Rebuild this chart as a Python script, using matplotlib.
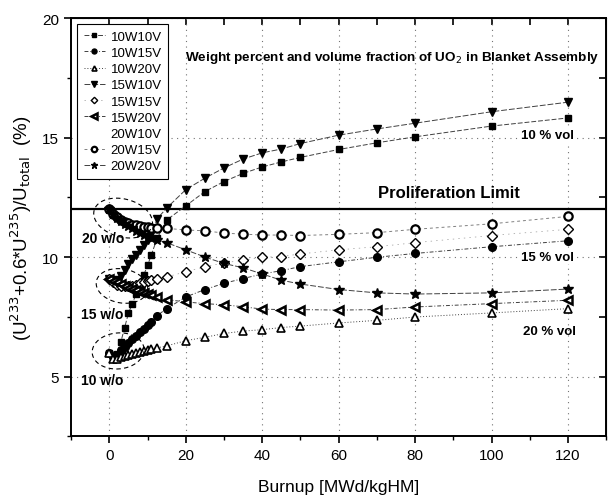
import numpy as np
import matplotlib
matplotlib.use('Agg')
import matplotlib.pyplot as plt

plt.rcParams['font.family'] = ['Liberation Sans', 'DejaVu Sans']

# burnup points [MWd/kgHM]
burnup = [0, 1, 2, 3, 4, 5, 6, 7, 8, 9, 10, 11, 12.5, 15, 20, 25, 30, 35, 40, 45, 50, 60, 70, 80, 100, 120]

# (U233 + 0.6*U235)/Utotal [%] for each case
w10v10 = [6.0, 5.8, 5.95, 6.44, 7.05, 7.65, 8.05, 8.45, 8.85, 9.25, 9.65, 10.1, 10.78, 11.55, 12.14, 12.74,
          13.16, 13.5, 13.77, 13.98, 14.17, 14.5, 14.78, 15.03, 15.48, 15.82]
w10v15 = [6.0, 5.8, 5.9, 6.1, 6.25, 6.4, 6.55, 6.7, 6.85, 7.0, 7.15, 7.3, 7.55, 7.84, 8.33, 8.64,
          8.9, 9.1, 9.29, 9.43, 9.6, 9.8, 9.99, 10.15, 10.43, 10.68]
w10v20 = [6.0, 5.75, 5.75, 5.8, 5.85, 5.9, 5.95, 6.0, 6.02, 6.05, 6.1, 6.15, 6.2, 6.28, 6.5, 6.64,
          6.8, 6.9, 6.96, 7.05, 7.11, 7.24, 7.35, 7.49, 7.66, 7.84]
w15v10 = [9.1, 9.0, 9.05, 9.2, 9.45, 9.7, 9.9, 10.1, 10.3, 10.5, 10.7, 10.95, 11.6, 12.05, 12.82, 13.3,
          13.73, 14.1, 14.36, 14.52, 14.75, 15.1, 15.36, 15.6, 16.08, 16.48]
w15v15 = [9.1, 8.95, 8.85, 8.8, 8.78, 8.78, 8.8, 8.85, 8.9, 8.95, 9.0, 9.05, 9.1, 9.17, 9.38, 9.6,
          9.75, 9.87, 9.99, 10.02, 10.13, 10.3, 10.43, 10.6, 10.9, 11.16]
w15v20 = [9.1, 9.0, 8.95, 8.88, 8.8, 8.72, 8.65, 8.6, 8.55, 8.5, 8.45, 8.4, 8.33, 8.22, 8.12, 8.05,
          8.0, 7.92, 7.82, 7.8, 7.8, 7.78, 7.8, 7.91, 8.05, 8.19]
w20v10 = []  # no visible marks in the figure
w20v15 = [12.0, 11.8, 11.66, 11.55, 11.47, 11.41, 11.36, 11.32, 11.29, 11.27, 11.25, 11.23, 11.21, 11.2, 11.13, 11.1,
          11.0, 10.96, 10.92, 10.92, 10.9, 10.95, 11.02, 11.16, 11.39, 11.7]
w20v20 = [12.0, 11.8, 11.65, 11.5, 11.4, 11.3, 11.2, 11.1, 11.0, 10.92, 10.85, 10.78, 10.7, 10.6, 10.3, 10.0,
          9.73, 9.55, 9.29, 9.03, 8.87, 8.64, 8.5, 8.45, 8.5, 8.66]

prolif_limit = 12.0

xlim = (-10, 130)
ylim = (2.5, 20)

fig = plt.figure(figsize=(6.08, 5.02), dpi=100)
ax = fig.add_axes([0.117, 0.129, 0.880, 0.833])

lc = '0.25'
lw = 0.7
ax.plot(burnup, w10v10, ls=(0, (5, 2)), color=lc, lw=lw, marker='s', ms=5, mfc='k', mec='k', label='10W10V', zorder=3)
ax.plot(burnup, w10v15, ls=(0, (4, 2, 1, 2)), color=lc, lw=lw, marker='o', ms=5.5, mfc='k', mec='k', label='10W15V', zorder=3)
ax.plot(burnup, w10v20, ls=(0, (1, 2)), color=lc, lw=lw, marker='^', ms=5.5, mfc='w', mec='k', mew=1.2, label='10W20V', zorder=3)
ax.plot(burnup, w15v10, ls=(0, (6, 2)), color=lc, lw=lw, marker='v', ms=6, mfc='k', mec='k', label='15W10V', zorder=3)
ax.plot(burnup, w15v15, ls=(0, (2, 6)), color='0.6', lw=0.5, marker='D', ms=5, mfc='w', mec='k', mew=1.0, label='15W15V', zorder=3)
ax.plot(burnup, w15v20, ls=(0, (4, 2, 1, 2)), color=lc, lw=lw, marker='<', ms=6, mfc='w', mec='k', mew=1.8, label='15W20V', zorder=3)
ax.plot(burnup[:len(w20v10)], w20v10, ls='none', label='20W10V')
ax.plot(burnup, w20v15, ls=(0, (3, 3)), color='0.5', lw=lw, marker='o', ms=6, mfc='w', mec='k', mew=1.6, label='20W15V', zorder=3)
ax.plot(burnup, w20v20, ls=(0, (6, 2)), color=lc, lw=lw, marker='*', ms=7, mfc='k', mec='k', label='20W20V', zorder=3)

ax.axhline(prolif_limit, color='k', lw=1.6, zorder=2)

# dashed ellipses around the initial enrichments (radii in pixels so tilt looks right)
xs = 0.880 * 608 / (xlim[1] - xlim[0])
ys = 0.833 * 502 / (ylim[1] - ylim[0])
t = np.linspace(0, 2 * np.pi, 200)
for cx, cy, rx, ry, ang in [(3.6, 11.63, 30, 19, -15), (3.3, 8.79, 26, 17, -10), (2.3, 6.07, 26, 18, 5)]:
    a = np.deg2rad(ang)
    px = rx * np.cos(t) * np.cos(a) - ry * np.sin(t) * np.sin(a)
    py = rx * np.cos(t) * np.sin(a) + ry * np.sin(t) * np.cos(a)
    ax.plot(cx + px / xs, cy + py / ys, ls=(0, (4, 3)), lw=0.8, color='k', zorder=4)

ax.text(74.0, 18.36, 'Weight percent and volume fraction of UO$_2$ in Blanket Assembly',
        ha='center', va='center', fontsize=9.7, fontweight='bold')
ax.text(88.8, 12.7, 'Proliferation Limit', ha='center', va='center', fontsize=12, fontweight='bold')
ax.text(114.6, 15.1, '10 % vol', ha='center', va='center', fontsize=9.5, fontweight='bold',
        bbox=dict(fc='w', ec='none', pad=1))
ax.text(114.6, 10.0, '15 % vol', ha='center', va='center', fontsize=9.5, fontweight='bold',
        bbox=dict(fc='w', ec='none', pad=1))
ax.text(115.2, 6.9, '20 % vol', ha='center', va='center', fontsize=9.5, fontweight='bold')
ax.text(-1.5, 10.8, '20 w/o', ha='center', va='center', fontsize=10, fontweight='bold', zorder=5)
ax.text(-1.8, 7.6, '15 w/o', ha='center', va='center', fontsize=10, fontweight='bold', zorder=5)
ax.text(-1.8, 4.85, '10 w/o', ha='center', va='center', fontsize=10, fontweight='bold', zorder=5)

ax.set_xlim(*xlim)
ax.set_ylim(*ylim)
ax.set_xticks([0, 20, 40, 60, 80, 100, 120])
ax.set_xticks(np.arange(-10, 131, 10), minor=True)
ax.set_yticks([5, 10, 15, 20])
ax.set_yticks(np.arange(2.5, 20.1, 2.5), minor=True)
ax.tick_params(which='major', direction='out', length=5, width=1.2, labelsize=11)
ax.tick_params(which='minor', direction='out', length=3, width=1.0)
ax.grid(True, which='major', ls=(0, (1, 4)), color='0.45', lw=0.8)
for s in ax.spines.values():
    s.set_linewidth(1.4)

top = ax.secondary_xaxis('top')
top.set_xticks([0, 20, 40, 60, 80, 100, 120])
top.set_xticks(np.arange(-10, 131, 10), minor=True)
top.tick_params(which='both', direction='in', labeltop=False, length=5, width=1.2)
right = ax.secondary_yaxis('right')
right.set_yticks([5, 10, 15, 20])
right.set_yticks(np.arange(2.5, 20.1, 2.5), minor=True)
right.tick_params(which='both', direction='in', labelright=False, length=5, width=1.2)

ax.set_xlabel('Burnup [MWd/kgHM]', fontsize=12.5, labelpad=12)
ax.set_ylabel(r'(U$^{233}$+0.6*U$^{235}$)/U$_{\mathrm{total}}$  (%)', fontsize=13.5, labelpad=6)

leg = ax.legend(loc='upper left', bbox_to_anchor=(0.011, 0.986), borderaxespad=0, fontsize=9.5,
                labelspacing=0.3, handlelength=1.6, handletextpad=0.45, markerscale=0.65,
                borderpad=0.5, fancybox=False, edgecolor='k', framealpha=1)
leg.get_frame().set_linewidth(0.8)

fig.savefig('out.png', dpi=100)
